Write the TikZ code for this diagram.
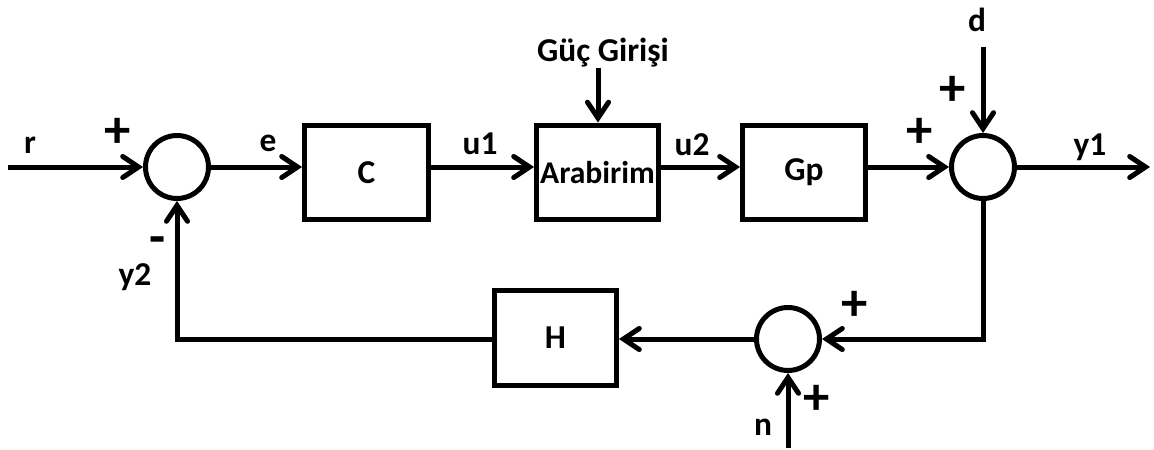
\documentclass[tikz,border=0pt]{standalone}
\usepackage{fontspec}
\setmainfont{Carlito}
\usetikzlibrary{arrows.meta}
\begin{document}
\begin{tikzpicture}[x=0.02cm,y=-0.02cm,
  line width=0.1cm,
  font=\fontsize{19}{21}\selectfont\bfseries,
  blk/.style={draw, rectangle, minimum width=#1, minimum height=1.9cm, inner sep=0pt},
  sumj/.style={draw, circle, minimum size=1.26cm, inner sep=0pt},
  sig/.style={-{Straight Barb[length=9pt,width=12pt,line cap=round]}},
  sgn/.style={font=\fontsize{30}{32}\selectfont\bfseries, inner sep=0pt},
  lbl/.style={inner sep=0pt}
]
\useasboundingbox (0,0) rectangle (1154,450);

% summing junctions and blocks
\node[sumj] (s1) at (177,167) {};
\node[blk=2.48cm] (C) at (366.5,172.5) {C};
\node[blk=2.44cm, font=\fontsize{18}{20}\selectfont\bfseries] (A) at (597.5,172.5) {Arabirim};
\node[blk=2.46cm] (G) at (804,172.5) {Gp};
\node[sumj] (s2) at (983,167) {};
\node[sumj] (s3) at (788,339) {};
\node[blk=2.44cm] (H) at (555.5,338) {H};

% free ends of the external signals
\coordinate (rin) at (8,167);
\coordinate (yout) at (1150,167);
\coordinate (din) at (983,47);
\coordinate (pin) at (598,68);
\coordinate (nin) at (788,448);

% forward path
\draw[sig] (rin) -- (s1);
\draw[sig] (s1) -- (s1 -| C.west);
\draw[sig] (C.east |- s1) -- (s1 -| A.west);
\draw[sig] (A.east |- s1) -- (s1 -| G.west);
\draw[sig] (G.east |- s1) -- (s2);
\draw[sig] (s2) -- (yout);
\draw[sig] (din) -- (s2);
\draw[sig] (pin) -- (pin |- A.north);

% feedback path
\draw[sig] (s2) |- (s3);
\draw[sig] (s3) -- (s3 -| H.east);
\draw[sig] (H.west |- s3) -| (s1);
\draw[sig] (nin) -- (s3);

% signal names
\node[lbl] (lr) at (30,145) {r};
\node[lbl] (le) at (268,143) {e};
\node[lbl] (lu1) at (480,144) {u1};
\node[lbl] (lu2) at (692,145) {u2};
\node[lbl] (lp) at (603,53) {Güç Girişi};
\node[lbl] (ld) at (977,20) {d};
\node[lbl] (ly1) at (1090,147) {y1};
\node[lbl] (ly2) at (135,277) {y2};
\node[lbl] (ln) at (763,427) {n};

% signs
\node[sgn] (p1) at (118,133) {+};
\node[sgn] (m1) at (158,246) {-};
\node[sgn] (p2) at (920,133) {+};
\node[sgn] (p3) at (953,91) {+};
\node[sgn] (p4) at (855,306) {+};
\node[sgn] (p5) at (817,400) {+};
\end{tikzpicture}
\end{document}
